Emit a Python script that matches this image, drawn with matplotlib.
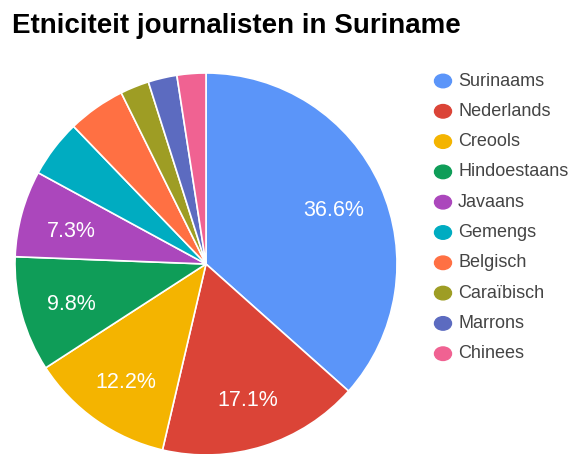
import matplotlib.pyplot as plt
import matplotlib.transforms as mtransforms

# data
labels = ['Surinaams', 'Nederlands', 'Creools', 'Hindoestaans', 'Javaans',
          'Gemengs', 'Belgisch', 'Caraïbisch', 'Marrons', 'Chinees']
counts = [15, 7, 5, 4, 3, 2, 2, 1, 1, 1]
colors = ['#5b95f9', '#db4437', '#f4b400', '#0f9d58', '#ab47bc',
          '#00acc1', '#ff7043', '#9e9d24', '#5c6bc0', '#f06292']

plt.rcParams['font.family'] = ['Liberation Sans', 'DejaVu Sans']

fig = plt.figure(figsize=(5.71, 4.54), dpi=100)

# pie axes: centre ~(206, 264) px, radius ~191 px
W, H = 571, 454
cx, cy, r = 206, 264, 191
ax = fig.add_axes([(cx - r) / W, (H - cy - r) / H, 2 * r / W, 2 * r / H])


def pct(p):
    return f'{p:.1f}%' if p > 6 else ''


wedges, texts, autotexts = ax.pie(
    counts, colors=colors, startangle=90, counterclock=False,
    autopct=pct, pctdistance=0.73, radius=1.0,
    wedgeprops=dict(edgecolor='white', linewidth=1.2),
    textprops=dict(color='white', fontsize=15.5))
# nudge labels a little down like the original
shift = mtransforms.ScaledTranslation(0, -4 / 100, fig.dpi_scale_trans)
for t in autotexts:
    t.set_transform(t.get_transform() + shift)
ax.set_xlim(-1, 1)
ax.set_ylim(-1, 1)
ax.set_aspect('equal')
ax.axis('off')

fig.text(12 / W, 1 - 26 / H, 'Etniciteit journalisten in Suriname',
         fontsize=20, fontweight='bold', va='center', ha='left', color='black')

# legend
y0, dy = 81, 30.3
for i, (lab, col) in enumerate(zip(labels, colors)):
    y = 1 - (y0 + i * dy) / H
    fig.patches.append(plt.Circle((443 / W, y), 8.5 / W, color=col,
                                  transform=fig.transFigure))
    fig.text(458 / W, y, lab, fontsize=13, color='#444444', va='center', ha='left')

fig.savefig('out.png', dpi=100)
